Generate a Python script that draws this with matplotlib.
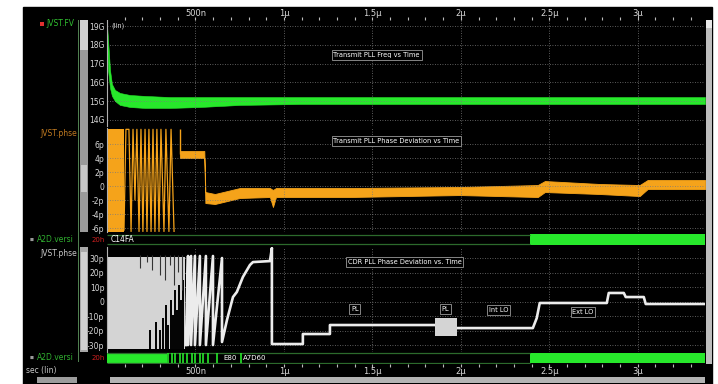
import numpy as np
import matplotlib
matplotlib.use('Agg')
import matplotlib.pyplot as plt
from matplotlib.patches import Rectangle

W, H = 718, 384

# time axis, microseconds
t_end = 3.38
t_major = [0.5, 1.0, 1.5, 2.0, 2.5, 3.0]
t_major_labels = ['500n', '1µ', '1.5µ', '2µ', '2.5µ', '3µ']

# Transmit PLL frequency (G) - upper/lower edge of the noisy trace
freq_t = [0, 0.006, 0.017, 0.028, 0.045, 0.073, 0.13, 0.215, 0.356, 0.525, 0.75, 1.09, 3.38]
freq_hi = [19.05, 18.26, 16.66, 15.91, 15.60, 15.44, 15.33, 15.28, 15.22, 15.22, 15.22, 15.22, 15.22]
freq_lo = [18.26, 16.66, 15.70, 15.28, 15.01, 14.80, 14.69, 14.64, 14.64, 14.69, 14.80, 14.85, 14.85]
freq_ticks = [14, 15, 16, 17, 18, 19]
freq_labels = ['14G', '15G', '16G', '17G', '18G', '19G']

# Transmit PLL phase deviation (p)
tx_block_t = [0, 0.096]
tx_zig_t = [0.096, 0.107, 0.124, 0.136, 0.147, 0.158, 0.169, 0.181, 0.192, 0.203, 0.215, 0.226,
            0.237, 0.249, 0.260, 0.271, 0.282, 0.294, 0.305, 0.322, 0.333, 0.350, 0.362, 0.379]
tx_zig_v = [-6.3, 8.1, 8.1, -6.5, 8.1, -2.0, 8.1, -6.5, 8.1, -6.5, 8.1, -6.5,
            8.1, -6.5, 8.1, -6.5, 8.1, -6.5, 8.1, -6.5, 8.1, -6.5, 8.1, -6.5]
tx_t = [0.412, 0.55, 0.556, 0.61, 0.751, 0.921, 0.938, 0.955, 1.373, 1.994, 2.435, 2.475,
        2.785, 3.011, 3.056, 3.38]
tx_hi = [5.0, 5.0, -0.86, -1.14, -0.29, -0.29, -0.57, -0.29, -0.29, -0.14, 0.14, 0.71,
         0.29, 0.14, 0.86, 0.86]
tx_lo = [4.0, 4.0, -2.43, -2.57, -1.71, -1.57, -3.0, -1.57, -1.57, -1.29, -1.57, -0.86,
         -1.14, -1.43, -0.43, -0.43]
tx_ticks = [-6, -4, -2, 0, 2, 4, 6]
tx_labels = ['-6p', '-4p', '-2p', '0', '2p', '4p', '6p']

# CDR PLL phase deviation (p)
cdr_block_t = [0, 0.441]
cdr_gap_lo_t = [0.243, 0.277, 0.299, 0.316, 0.333, 0.345, 0.362, 0.373, 0.384, 0.395, 0.407, 0.418, 0.429]
cdr_gap_lo_v = [-19.7, -14.1, -19.7, -11.4, -2.4, -16.2, 1.0, -9.3, 7.9, -5.9, 11.4, 1.0, 14.8]
cdr_gap_hi_t = [0.186, 0.226, 0.254, 0.299, 0.328, 0.356, 0.379, 0.401, 0.424]
cdr_gap_hi_v = [23.1, 27.2, 21.7, 18.3, 14.8, 25.2, 11.4, 20.3, 7.9]
cdr_t = [0.446, 0.458, 0.458, 0.475, 0.475, 0.497, 0.497, 0.525, 0.525, 0.559, 0.559, 0.599,
         0.599, 0.650, 0.650, 0.678, 0.712, 0.734, 0.768, 0.808, 0.825, 0.921, 0.932, 0.932,
         1.107, 1.107, 1.260, 1.260, 1.853, 1.977, 2.407, 2.429, 2.446, 2.825, 2.836, 2.921,
         2.932, 3.034, 3.045, 3.379]
cdr_v = [-30.0, 31.4, -30.0, 31.4, -30.0, 31.4, -30.0, 31.4, -30.0, 31.4, -30.0, 31.4,
         -30.0, 30.0, -27.9, -12.8, 3.1, 6.6, 16.9, 25.2, 27.2, 27.9, 36.9, -29.3,
         -29.3, -22.4, -22.4, -16.2, -16.2, -18.3, -18.3, -11.4, -1.0, -1.0, 5.9, 5.9,
         3.1, 3.1, -1.7, -1.7]
cdr_burst_t = [1.853, 1.977]
cdr_burst_lo, cdr_burst_hi = -23.8, -11.4
cdr_ticks = [-30, -20, -10, 0, 10, 20, 30]
cdr_labels = ['-30p', '-20p', '-10p', '0', '10p', '20p', '30p']

# A2D.version bus rows
bus_on_t = 2.39
bus2_solid_t = 0.339
bus2_stripes_t = [0.345, 0.367, 0.384, 0.412, 0.429, 0.452, 0.480, 0.497, 0.525, 0.542, 0.571, 0.621, 0.757]

BG = 'black'
GRID = '#7a7a7a'
TXT = '#d8d8d8'
GREEN = '#27e82b'
ORANGE = '#f5a31a'
LGRAY = '#d4d4d4'

fig = plt.figure(figsize=(W / 100, H / 100), dpi=100, facecolor='white')
fig.add_artist(Rectangle((23 / W, 0), (712 - 23) / W, 1 - 7 / H,
                         transform=fig.transFigure, color=BG, zorder=-10))


def px_axes(x0, y0, x1, y1):
    ax = fig.add_axes([x0 / W, 1 - y1 / H, (x1 - x0) / W, (y1 - y0) / H])
    ax.set_facecolor(BG)
    ax.set_xlim(0, t_end)
    return ax


def px_rect(x0, y0, x1, y1, color):
    fig.add_artist(Rectangle((x0 / W, 1 - y1 / H), (x1 - x0) / W, (y1 - y0) / H,
                             transform=fig.transFigure, color=color, lw=0))


def px_text(x, y, s, **kw):
    kw.setdefault('fontsize', 5.5)
    kw.setdefault('va', 'center')
    fig.text(x / W, 1 - y / H, s, **kw)


def style_panel(ax, ticks, labels):
    ax.set_yticks(ticks)
    ax.set_yticklabels(labels)
    ax.set_xticks(t_major)
    ax.tick_params(length=0, pad=2, labelsize=5.5, labelcolor=TXT, labelbottom=False)
    ax.grid(True, color=GRID, linestyle=(0, (1, 2)), linewidth=0.6)
    for side in ['top', 'right', 'bottom']:
        ax.spines[side].set_visible(False)
    ax.spines['left'].set_color('#b0b0b0')
    ax.spines['left'].set_linewidth(0.8)


def label_box(ax, t, v, s):
    ax.text(t, v, s, color='white', fontsize=4.8, va='center', ha='left', zorder=6,
            bbox=dict(boxstyle='square,pad=0.25', fc='black', ec='#9a9a9a', lw=0.6))


# side columns
px_rect(78, 20, 79, 362, '#4f7f4f')
px_rect(80, 20, 88, 232, '#9a9a9a')
px_rect(80, 20, 88, 50, '#d0d0d0')
px_rect(81, 165, 87, 192, '#c8c8c8')
px_rect(80, 247, 88, 352, '#a8a8a8')
px_rect(81, 252, 87, 350, '#d0d0d0')
px_rect(706, 20, 712, 364, '#bdbdbd')
px_rect(706, 20, 712, 28, '#e8e8e8')
px_rect(37, 377, 77, 383, '#9c9c9c')
px_rect(110, 377, 705, 383, '#b4b4b4')

# Transmit PLL frequency
ax_f = px_axes(107, 20, 705, 126)
ax_f.set_ylim(13.68, 19.32)
style_panel(ax_f, freq_ticks, freq_labels)
ax_f.fill_between(freq_t, freq_lo, freq_hi, color=GREEN, lw=0.4, edgecolor=GREEN)
ax_f.text(0.025, 19.0, '(lin)', color=TXT, fontsize=4.8, va='center')
label_box(ax_f, 1.28, 17.45, 'Transmit PLL Freq vs Time')

# Transmit PLL phase deviation
ax_o = px_axes(107, 128, 705, 232)
ax_o.set_ylim(-6.57, 8.29)
style_panel(ax_o, tx_ticks, tx_labels)
ax_o.fill_between(tx_block_t, -6.6, 8.1, color=ORANGE, lw=0)
ax_o.plot(tx_zig_t, tx_zig_v, color=ORANGE, lw=0.9)
ax_o.vlines(tx_t[0], 4.6, 8.1, color=ORANGE, lw=1.0)
ax_o.fill_between(tx_t, tx_lo, tx_hi, color=ORANGE, lw=0.6, edgecolor=ORANGE)
label_box(ax_o, 1.28, 6.45, 'Transmit PLL Phase Deviation vs Time')

# CDR PLL phase deviation
ax_c = px_axes(107, 247, 705, 352)
ax_c.set_ylim(-34.8, 37.6)
style_panel(ax_c, cdr_ticks, cdr_labels)
ax_c.fill_between(cdr_block_t, -32.5, 31.0, color=LGRAY, lw=0, zorder=2)
ax_c.vlines(cdr_gap_lo_t, -34, cdr_gap_lo_v, color=BG, lw=1.4, zorder=3)
ax_c.vlines(cdr_gap_hi_t, cdr_gap_hi_v, 32, color='#333333', lw=0.8, zorder=3)
ax_c.plot(cdr_t, cdr_v, color='#ececec', lw=1.9, zorder=4)
ax_c.fill_between(cdr_burst_t, cdr_burst_lo, cdr_burst_hi, color=LGRAY, lw=0, zorder=4)
label_box(ax_c, 1.36, 27.2, 'CDR PLL Phase Deviation vs. Time')
label_box(ax_c, 1.38, -5.2, 'PL')
label_box(ax_c, 1.89, -5.2, 'PL')
label_box(ax_c, 2.16, -5.9, 'Int LO')
label_box(ax_c, 2.63, -7.2, 'Ext LO')

# bus rows
for y0, y1 in [(233, 246), (352, 364)]:
    ax_b = px_axes(107, y0, 705, y1)
    ax_b.set_ylim(0, 1)
    ax_b.axis('off')
    ax_b.hlines([0.12, 0.88], 0, bus_on_t, color='#2c6a2c', lw=0.9)
    ax_b.fill_between([bus_on_t, t_end], 0.1, 0.9, color=GREEN, lw=0)
    if y0 == 233:
        ax_b.text(0.02, 0.5, 'C14FA', color='white', fontsize=5.5, va='center')
    else:
        ax_b.fill_between([0, bus2_solid_t], 0.1, 0.9, color=GREEN, lw=0)
        ax_b.vlines(bus2_stripes_t, 0.1, 0.9, color=GREEN, lw=1.2)
        ax_b.text(0.655, 0.5, 'E80', color='white', fontsize=5, va='center')
        ax_b.text(0.77, 0.5, 'A7D60', color='white', fontsize=5, va='center')
    px_text(92, (y0 + y1) / 2, '20h', color='#d02020', fontsize=5)

# time rulers
for y0, y1, tick_dir in [(8, 20, 'bottom'), (364, 376, 'top')]:
    ax_r = px_axes(107, y0, 705, y1)
    ax_r.set_ylim(0, 1)
    for s in ax_r.spines.values():
        s.set_visible(False)
    ax_r.set_yticks([])
    ax_r.set_xticks(np.arange(0.1, t_end, 0.1))
    ax_r.xaxis.set_ticks_position(tick_dir)
    ax_r.tick_params(axis='x', direction='in', length=2, color='#bbbbbb',
                     labelbottom=False, labeltop=False)
    for t, s in zip(t_major, t_major_labels):
        ax_r.text(t, 0.55 if tick_dir == 'bottom' else 0.35, s, color=TXT,
                  fontsize=6, ha='center', va='center')

# signal names
px_rect(40, 22, 44, 26, '#e03030')
px_text(46, 24, 'JVST.FV', color='#30c030')
px_text(40, 133, 'JVST.phse', color='#c07a20')
px_text(30, 240, '■', color='#9a9a9a', fontsize=3)
px_text(37, 240, 'A2D.versi', color='#30b030')
px_text(40, 253, 'JVST.phse', color='#c8c8c8')
px_text(30, 358, '■', color='#9a9a9a', fontsize=3)
px_text(37, 358, 'A2D.versi', color='#30b030')
px_text(26, 371, 'sec (lin)', color='#c8c8c8')

fig.savefig('out.png', dpi=100, facecolor='white')
